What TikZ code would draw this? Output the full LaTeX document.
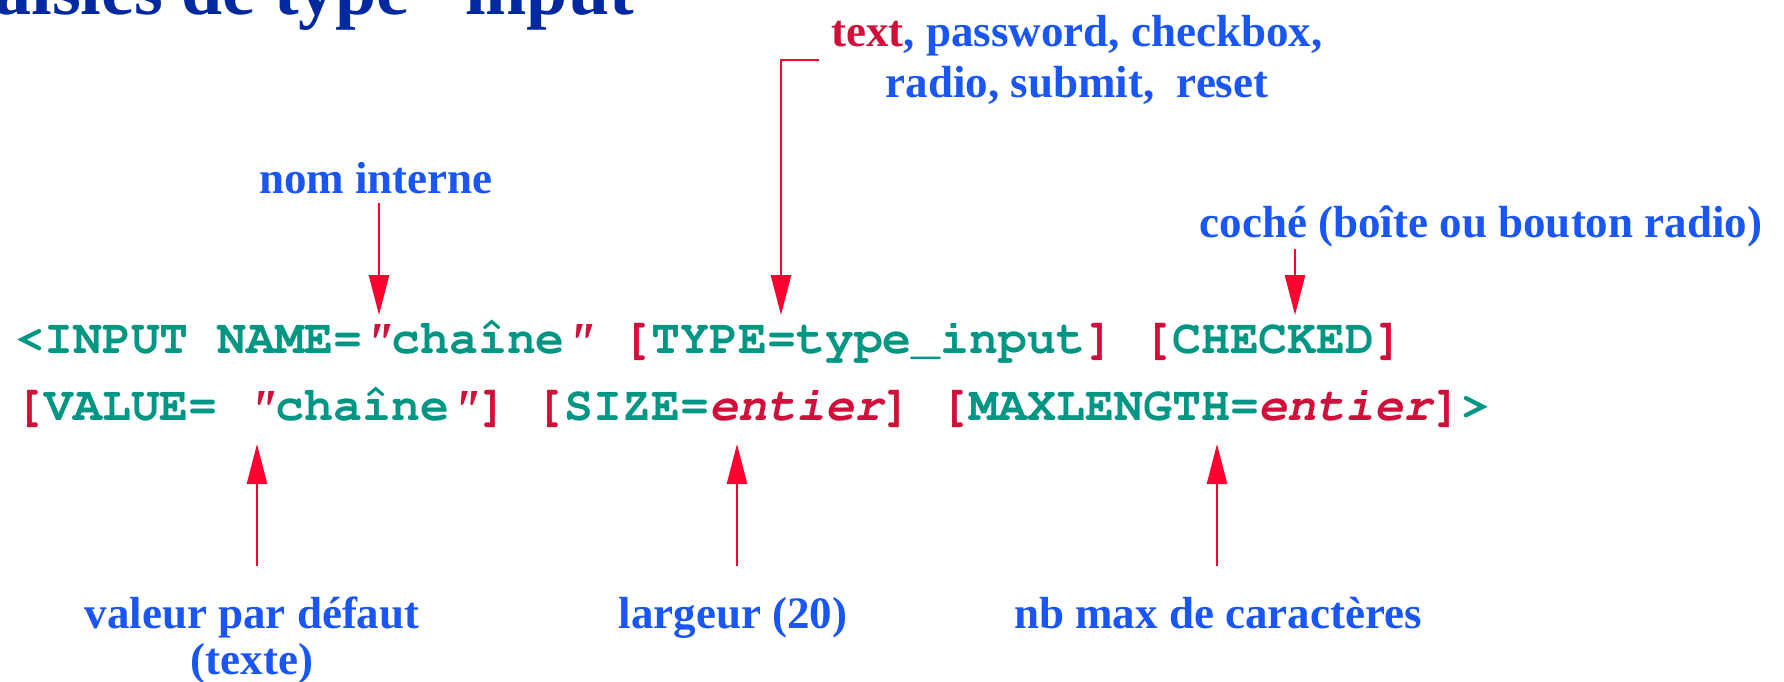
\documentclass[tikz,border=0pt]{standalone}
\usepackage[T1]{fontenc}
\usepackage{fontspec}
\setmainfont{Liberation Serif}
\usetikzlibrary{arrows.meta,positioning,calc}
\definecolor{cazul}{HTML}{1A55F5}
\definecolor{ctitulo}{HTML}{0028A0}
\definecolor{crojo}{HTML}{D0103A}
\definecolor{cflecha}{HTML}{FF0030}
\definecolor{cverde}{HTML}{009683}
\newcommand\courb{\fontencoding{T1}\fontfamily{pcr}\fontseries{b}\fontshape{n}\fontsize{24.1}{28}\selectfont}
\newcommand\rj[1]{\textcolor{crojo}{#1}}
\newcommand\cm{\rj{\fontshape{sl}\selectfont"}}
\newcommand\ent{\rj{\fontshape{sl}\selectfont entier}}
\tikzset{
  et/.style={font=\fontsize{22.5}{25.5}\selectfont\bfseries,text=cazul,align=center,inner sep=0pt},
  titulo/.style={font=\fontsize{37}{42}\selectfont\bfseries,text=ctitulo,inner sep=0pt},
  codigo/.style={font=\courb,text=cverde,inner sep=0pt,anchor=base west},
  flecha/.style={-{Triangle[length=20pt,width=10pt]},draw=cflecha,line width=1.35pt},
}
\begin{document}
\begin{tikzpicture}[x=0.5pt,y=-0.5pt]
\useasboundingbox (0,0) rectangle (1784,681);

\node[titulo,anchor=base west] (titulo) at (-47,14) {Saisies de type ``input''};

\node[codigo] (linea1) at (15,353) {<INPUT NAME=\cm chaîne\cm{} \rj{[}TYPE=type\_input\rj{]} \rj{[}CHECKED\rj{]}};
\node[codigo] (linea2) at (15,420) {\rj{[}VALUE= \cm chaîne\cm\rj{]} \rj{[}SIZE=\ent\rj{]} \rj{[}MAXLENGTH=\ent\rj{]}>};

\node[et] (tipos) at (1077,60) {\textcolor{crojo}{text}, password, checkbox,\\radio, submit,\ \ reset};
\node[et,anchor=base] (nom)   at (376,193)  {nom interne};
\node[et,anchor=base] (coche) at (1481,237) {coché (boîte ou bouton radio)};
\node[et,anchor=base,font=\fontsize{22.5}{23}\selectfont\bfseries] (valor) at (252,674) {valeur par défaut\\(texte)};
\node[et,anchor=base] (tam)   at (733,628)  {largeur (20)};
\node[et,anchor=base] (max)   at (1218,628) {nb max de caractères};

\coordinate (pnom)   at (379,315);
\coordinate (ptipo)  at (781,315);
\coordinate (pcoche) at (1295,315);
\coordinate (pvalor) at (257,444);
\coordinate (ptam)   at (737,444);
\coordinate (pmax)   at (1217,444);

\draw[flecha,shorten <=4.5pt] (pnom |- nom.south) -- (pnom);
\draw[flecha,shorten <=1pt] (pcoche |- coche.south) -- (pcoche);
\draw[flecha,shorten <=6pt] (tipos.west) -| (ptipo);
\draw[flecha,shorten <=15pt] (pvalor |- valor.north) -- (pvalor);
\draw[flecha,shorten <=15pt] (ptam |- tam.north) -- (ptam);
\draw[flecha,shorten <=15pt] (pmax |- max.north) -- (pmax);

\end{tikzpicture}
\end{document}
